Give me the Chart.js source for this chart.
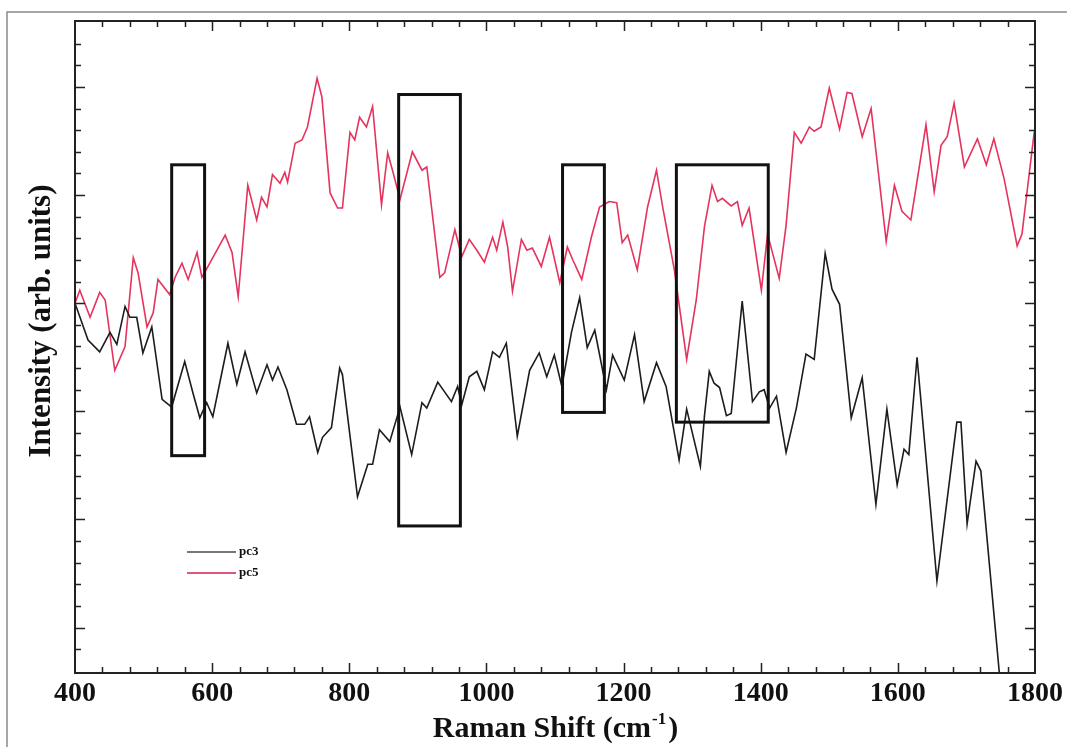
<!DOCTYPE html>
<html>
<head>
<meta charset="utf-8">
<title>Raman loadings</title>
<script src="https://cdn.jsdelivr.net/npm/chart.js@4.4.1/dist/chart.umd.min.js"></script>
<style>
  html, body { margin: 0; padding: 0; background: #fff; }
  #wrap { width: 1067px; height: 747px; }
</style>
</head>
<body>
<div id="wrap"><canvas id="ramanChart" width="1067" height="747"></canvas></div>
<script>
// pc5 loading (red)
const pc5Shift = [400, 407, 422, 436, 444, 458, 473, 485, 492, 505, 514, 521, 538, 546, 556, 565, 578, 585, 594, 619,
  629, 638, 652, 665, 672, 680, 688, 699, 706, 710, 721, 731, 739, 753, 760, 772, 783, 790, 801, 808,
  815, 825, 834, 847, 856, 863, 874, 892, 906, 913, 932, 939, 954, 964, 975, 986, 997, 1009, 1015, 1024,
  1031, 1038, 1051, 1059, 1067, 1080, 1092, 1107, 1118, 1126, 1139, 1153, 1165, 1179, 1190, 1198, 1206, 1220, 1235, 1248,
  1257, 1274, 1292, 1306, 1318, 1329, 1337, 1344, 1357, 1366, 1373, 1383, 1401, 1410, 1427, 1437, 1449, 1459, 1471, 1478,
  1488, 1500, 1515, 1526, 1533, 1548, 1561, 1583, 1595, 1606, 1619, 1641, 1653, 1663, 1672, 1682, 1697, 1716, 1729, 1740,
  1755, 1774, 1781, 1799];
const pc5Intensity = [3.00, 3.12, 2.87, 3.10, 3.03, 2.38, 2.60, 3.42, 3.28, 2.78, 2.91, 3.22, 3.08, 3.24, 3.37, 3.22, 3.47, 3.24, 3.34, 3.63,
  3.47, 3.06, 4.09, 3.77, 3.98, 3.89, 4.19, 4.11, 4.21, 4.12, 4.48, 4.51, 4.63, 5.08, 4.91, 4.02, 3.88, 3.88, 4.58, 4.51,
  4.72, 4.63, 4.82, 3.91, 4.39, 4.23, 3.96, 4.40, 4.23, 4.26, 3.24, 3.28, 3.68, 3.43, 3.59, 3.49, 3.38, 3.61, 3.49, 3.75,
  3.52, 3.11, 3.59, 3.49, 3.51, 3.34, 3.61, 3.19, 3.52, 3.40, 3.22, 3.61, 3.89, 3.94, 3.93, 3.56, 3.63, 3.31, 3.89, 4.23,
  3.89, 3.31, 2.48, 3.03, 3.71, 4.09, 3.94, 3.97, 3.90, 3.94, 3.72, 3.88, 3.12, 3.64, 3.23, 3.72, 4.58, 4.48, 4.63, 4.59,
  4.63, 4.99, 4.61, 4.95, 4.94, 4.54, 4.80, 3.57, 4.09, 3.85, 3.77, 4.65, 4.03, 4.46, 4.54, 4.85, 4.26, 4.52, 4.28, 4.52,
  4.15, 3.53, 3.64, 4.59];

// pc3 loading (black)
const pc3Shift = [400, 419, 436, 451, 461, 473, 480, 490, 499, 512, 527, 541, 560, 572, 582, 592, 601, 623, 636, 648,
  665, 680, 688, 696, 709, 723, 735, 742, 754, 761, 774, 786, 790, 812, 827, 834, 844, 859, 874, 891,
  906, 913, 929, 949, 958, 964, 975, 986, 997, 1009, 1019, 1029, 1045, 1063, 1077, 1088, 1099, 1110, 1124, 1136,
  1147, 1158, 1175, 1184, 1201, 1216, 1230, 1248, 1262, 1281, 1292, 1312, 1318, 1325, 1332, 1340, 1350, 1357, 1373, 1388,
  1398, 1405, 1413, 1423, 1437, 1452, 1466, 1478, 1494, 1504, 1515, 1532, 1548, 1568, 1584, 1599, 1609, 1616, 1628, 1657,
  1686, 1692, 1701, 1714, 1721, 1748, 1753];
const pc3Intensity = [3.00, 2.66, 2.55, 2.73, 2.62, 2.97, 2.87, 2.87, 2.54, 2.78, 2.11, 2.04, 2.46, 2.17, 1.94, 2.08, 1.95, 2.63, 2.25, 2.55,
  2.17, 2.43, 2.29, 2.41, 2.20, 1.88, 1.88, 1.95, 1.62, 1.76, 1.85, 2.40, 2.34, 1.21, 1.51, 1.51, 1.83, 1.72, 2.04, 1.60,
  2.08, 2.03, 2.27, 2.09, 2.23, 2.06, 2.32, 2.37, 2.20, 2.55, 2.50, 2.63, 1.77, 2.38, 2.54, 2.32, 2.52, 2.23, 2.73, 3.05,
  2.59, 2.75, 2.20, 2.52, 2.29, 2.71, 2.09, 2.45, 2.23, 1.55, 2.02, 1.49, 1.96, 2.37, 2.26, 2.22, 1.96, 1.98, 3.02, 2.09,
  2.18, 2.20, 2.03, 2.14, 1.62, 2.03, 2.53, 2.48, 3.46, 3.13, 2.99, 1.94, 2.31, 1.14, 2.02, 1.32, 1.65, 1.60, 2.50, 0.43,
  1.90, 1.90, 0.96, 1.54, 1.45, -0.42, -0.85];

// labelled Raman shift ticks
const shiftTicks = [400, 600, 800, 1000, 1200, 1400, 1600, 1800];

// marked bands: shift range and intensity range
const bandFrom = [541, 872, 1111, 1277];
const bandTo = [589, 962, 1172, 1411];
const bandLow = [1.59, 0.94, 1.99, 1.90];
const bandHigh = [4.28, 4.93, 4.28, 4.28];

const serif = "'Liberation Serif', 'Times New Roman', serif";

function toPoints(xs, ys) {
  return xs.map((x, i) => ({ x: x, y: ys[i] }));
}

// page border, frame, inward ticks, band boxes, legend and axis titles
const decorations = {
  id: 'decorations',
  beforeDraw(chart) {
    const ctx = chart.ctx;
    ctx.save();
    ctx.fillStyle = '#fff';
    ctx.fillRect(0, 0, chart.width, chart.height);
    ctx.strokeStyle = '#8a8a8a';
    ctx.lineWidth = 1.5;
    ctx.beginPath();
    ctx.moveTo(7, chart.height);
    ctx.lineTo(7, 12);
    ctx.lineTo(chart.width, 12);
    ctx.stroke();
    ctx.restore();
  },
  afterDatasetsDraw(chart) {
    const ctx = chart.ctx;
    const a = chart.chartArea;
    const xs = chart.scales.x, ys = chart.scales.y;
    ctx.save();

    // band boxes
    ctx.strokeStyle = '#111';
    ctx.lineWidth = 3;
    for (let i = 0; i < bandFrom.length; i++) {
      const x1 = xs.getPixelForValue(bandFrom[i]);
      const x2 = xs.getPixelForValue(bandTo[i]);
      const y1 = ys.getPixelForValue(bandHigh[i]);
      const y2 = ys.getPixelForValue(bandLow[i]);
      ctx.strokeRect(x1, y1, x2 - x1, y2 - y1);
    }

    // frame
    ctx.strokeStyle = '#222';
    ctx.lineWidth = 2;
    ctx.strokeRect(a.left, a.top, a.right - a.left, a.bottom - a.top);

    // ticks, pointing into the plot on all four sides
    ctx.lineWidth = 1.5;
    ctx.beginPath();
    for (let v = 400; v <= 1800; v += 40) {
      const px = Math.round(xs.getPixelForValue(v)) + 0.5;
      if (px < a.left + 3 || px > a.right - 3) continue;
      const len = (v - 400) % 200 === 0 ? 10 : 6;
      ctx.moveTo(px, a.bottom); ctx.lineTo(px, a.bottom - len);
      ctx.moveTo(px, a.top); ctx.lineTo(px, a.top + len);
    }
    for (let k = -2; k <= 28; k++) {
      const py = Math.round(ys.getPixelForValue(k * 0.2)) + 0.5;
      if (py < a.top + 3 || py > a.bottom - 3) continue;
      const len = k % 5 === 0 ? 10 : 6;
      ctx.moveTo(a.left, py); ctx.lineTo(a.left + len, py);
      ctx.moveTo(a.right, py); ctx.lineTo(a.right - len, py);
    }
    ctx.stroke();

    // legend
    ctx.font = 'bold 13px ' + serif;
    ctx.textBaseline = 'middle';
    ctx.fillStyle = '#111';
    chart.data.datasets.forEach((ds, i) => {
      const y = a.top + 531 + i * 21;
      ctx.strokeStyle = ds.legendColor;
      ctx.lineWidth = 2;
      ctx.beginPath();
      ctx.moveTo(a.left + 112, y);
      ctx.lineTo(a.left + 161, y);
      ctx.stroke();
      ctx.fillText(ds.label, a.left + 164, y);
    });

    // x axis title with a small raised -1
    const big = 'bold 30px ' + serif, small = 'bold 17px ' + serif;
    const head = 'Raman Shift (cm', sup = '-1', tail = ')';
    ctx.font = big;
    const wHead = ctx.measureText(head).width, wTail = ctx.measureText(tail).width;
    ctx.font = small;
    const wSup = ctx.measureText(sup).width + 2;
    let tx = (a.left + a.right) / 2 - (wHead + wSup + wTail) / 2;
    const ty = 737;
    ctx.textBaseline = 'alphabetic';
    ctx.textAlign = 'left';
    ctx.font = big;
    ctx.fillText(head, tx, ty);
    tx += wHead + 1;
    ctx.font = small;
    ctx.fillText(sup, tx, ty - 13);
    tx += wSup;
    ctx.font = big;
    ctx.fillText(tail, tx, ty);

    // y axis title, sits a little above the middle of the frame
    ctx.translate(42, a.top + 300);
    ctx.rotate(-Math.PI / 2);
    ctx.textAlign = 'center';
    ctx.textBaseline = 'middle';
    ctx.font = 'bold 31px ' + serif;
    ctx.fillText('Intensity (arb. units)', 0, 0);
    ctx.restore();
  }
};

new Chart(document.getElementById('ramanChart'), {
  type: 'line',
  data: {
    datasets: [
      {
        label: 'pc3',
        data: toPoints(pc3Shift, pc3Intensity),
        borderColor: '#1c1c1c',
        legendColor: '#777',
        borderWidth: 1.6
      },
      {
        label: 'pc5',
        data: toPoints(pc5Shift, pc5Intensity),
        borderColor: '#e5335d',
        legendColor: '#e0557c',
        borderWidth: 1.6
      }
    ]
  },
  options: {
    responsive: false,
    animation: false,
    devicePixelRatio: 1,
    layout: { padding: { top: 21, right: 31, left: 0, bottom: 0 } },
    elements: { point: { radius: 0 }, line: { tension: 0 } },
    plugins: { legend: { display: false }, tooltip: { enabled: false } },
    scales: {
      x: {
        type: 'linear',
        min: 400,
        max: 1800,
        afterBuildTicks: s => { s.ticks = shiftTicks.map(v => ({ value: v })); },
        afterFit: s => { s.height = 74; },
        grid: { display: false, drawTicks: false },
        border: { display: false },
        ticks: {
          autoSkip: false,
          maxRotation: 0,
          padding: 4,
          color: '#111',
          callback: v => String(v),
          font: { family: serif, size: 28, weight: 'bold' }
        }
      },
      y: {
        type: 'linear',
        min: -0.42,
        max: 5.61,
        afterFit: s => { s.width = 75; },
        grid: { display: false, drawTicks: false },
        border: { display: false },
        ticks: { display: false }
      }
    }
  },
  plugins: [decorations]
});
</script>
</body>
</html>
